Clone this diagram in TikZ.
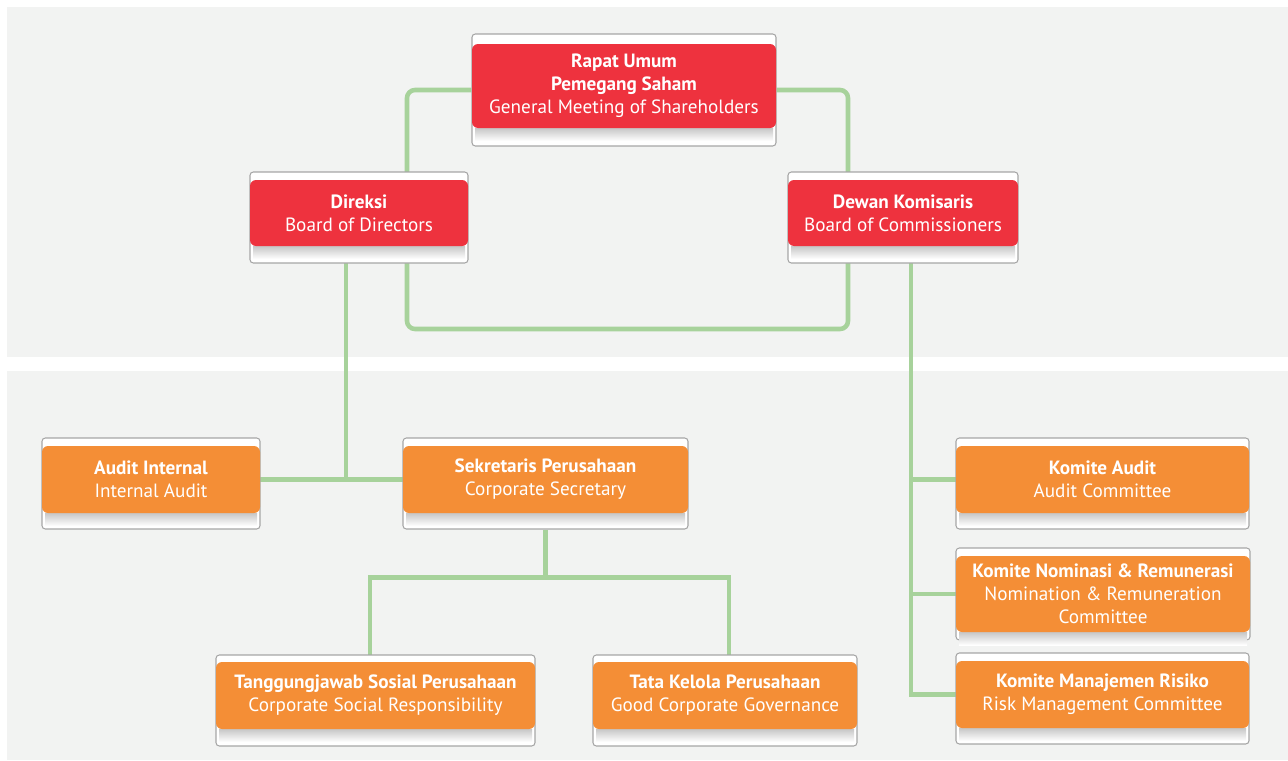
\documentclass[tikz,border=0pt]{standalone}
\usepackage{fontspec}
\setmainfont{PT Sans}
\usetikzlibrary{fit,backgrounds}
\definecolor{panel}{HTML}{F2F3F2}
\definecolor{rupsred}{HTML}{EE323E}
\definecolor{orgorange}{HTML}{F48E36}
\definecolor{conngreen}{HTML}{A7D29B}
\definecolor{framegray}{HTML}{A6A6A6}
\tikzset{
  frame/.style={draw=framegray, fill=white, rounded corners=2.5pt, inner sep=0pt, line width=0.8pt},
  cbox/.style={inner sep=0pt, rounded corners=4.5pt},
  ctext/.style={inner sep=0pt, text=white, align=center,
    font=\fontsize{14.4pt}{17.25pt}\selectfont},
  conn/.style={draw=conngreen, line width=3.4pt, rounded corners=6pt},
  connsq/.style={draw=conngreen, line width=3.4pt},
}
\newcommand\orgbox[9]{%
  \node[frame, fit={(#2,#3)(#4,#5)}] (#1-f) {};
  \shade[top color=black!22, bottom color=white] (#2+3,#7) rectangle (#4-3,#7+13);
  \node[cbox, fill=#8, fit={(#2,#6)(#4,#7)}] (#1) {};
  \node[ctext] (#1-t) at (#1.center) {#9};
}
\begin{document}
\begin{tikzpicture}[x=0.75pt, y=-0.75pt]
\useasboundingbox (0,0) rectangle (1288,760);

\orgbox{rups}{472}{34}{776}{146}{44}{128}{rupsred}{\textbf{Rapat Umum}\\\textbf{Pemegang Saham}\\General Meeting of Shareholders}
\orgbox{dir}{250}{172}{468}{263}{180}{246}{rupsred}{\textbf{Direksi}\\Board of Directors}
\orgbox{dk}{788}{172}{1018}{263}{180}{246}{rupsred}{\textbf{Dewan Komisaris}\\Board of Commissioners}
\orgbox{ai}{42}{438}{260}{529}{446}{513}{orgorange}{\textbf{Audit Internal}\\Internal Audit}
\orgbox{sek}{403}{438}{688}{529}{446}{513}{orgorange}{\textbf{Sekretaris Perusahaan}\\Corporate Secretary}
\orgbox{ka}{956}{438}{1249}{529}{446}{513}{orgorange}{\textbf{Komite Audit}\\Audit Committee}
\orgbox{kn}{956}{548}{1250}{640}{556}{632}{orgorange}{\textbf{Komite Nominasi \& Remunerasi}\\Nomination \& Remuneration\\Committee}
\orgbox{risk}{956}{653}{1249}{744}{661}{728}{orgorange}{\textbf{Komite Manajemen Risiko}\\Risk Management Committee}
\orgbox{csr}{216}{655}{535}{746}{662}{729}{orgorange}{\textbf{Tanggungjawab Sosial Perusahaan}\\Corporate Social Responsibility}
\orgbox{gcg}{593}{655}{857}{746}{662}{729}{orgorange}{\textbf{Tata Kelola Perusahaan}\\Good Corporate Governance}

\coordinate (dirT) at (407,172);
\coordinate (dkT) at (848,172);
\coordinate (dirB) at (407,263);
\coordinate (dkB) at (848,263);
\coordinate (dirC) at (346,263);
\coordinate (dkC) at (911,263);
\coordinate (csrT) at (370,655);
\coordinate (gcgT) at (729,655);

\begin{scope}[on background layer]
  \fill[panel] (7,7) rectangle (1288,357);
  \fill[panel] (7,371) rectangle (1288,760);
  \draw[conn] (rups-f.west) -| (dirT);
  \draw[conn] (rups-f.east) -| (dkT);
  \draw[conn] (dirB) -- ++(0,66) -| (dkB);
  \draw[connsq] (ai.east) -- (sek.west);
  \draw[connsq] (dirC) -- (dirC |- ai.east);
  \draw[connsq] (sek-f.south) -- ++(0,48) coordinate (sekJ);
  \draw[connsq] (csrT) |- (sekJ) -| (gcgT);
  \draw[connsq] (dkC) |- (risk.west);
  \draw[connsq] (dkC |- ka.west) -- (ka.west);
  \draw[connsq] (dkC |- kn.west) -- (kn.west);
\end{scope}
\end{tikzpicture}
\end{document}
